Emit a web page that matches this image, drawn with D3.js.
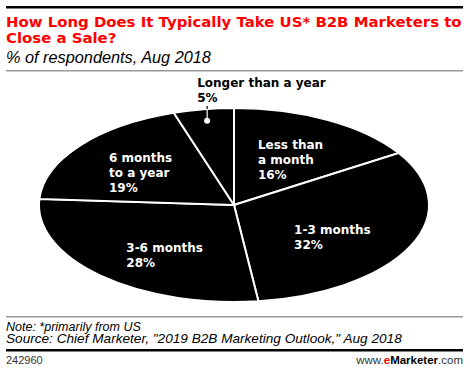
<!DOCTYPE html>
<html>
<head>
<meta charset="utf-8">
<title>Close a Sale</title>
<style>
  body { margin: 0; background: #fff; }
  svg { display: block; }
</style>
</head>
<body>
<script src="https://cdn.jsdelivr.net/npm/d3@7/dist/d3.min.js"></script>
<script>
  // data
  var categories = ['Less than a month', '1-3 months', '3-6 months', '6 months to a year', 'Longer than a year'];
  var values = [16, 32, 28, 19, 5];
  var labelLines = [['Less than', 'a month'], ['1-3 months'], ['3-6 months'], ['6 months', 'to a year'], ['Longer than a year']];

  var W = 470, H = 372;
  var svg = d3.select('body').append('svg').attr('width', W).attr('height', H);
  var font = 'DejaVu Sans, Verdana, sans-serif';
  var plain = 'Liberation Sans, Arial, sans-serif';

  // shrink/grow a text's font size so it spans a given width
  function fit(sel, width) {
    var fs = +sel.attr('font-size');
    var len = sel.node().getComputedTextLength();
    sel.attr('font-size', fs * width / len);
    return sel;
  }

  // top rule + title
  svg.append('rect').attr('x', 6).attr('y', 6).attr('width', 457).attr('height', 2.5).attr('fill', '#000');
  var t1 = svg.append('text').attr('x', 6).attr('y', 27).attr('font-family', font).attr('font-weight', 'bold')
    .attr('font-size', 16).attr('fill', '#ff0000').text('How Long Does It Typically Take US* B2B Marketers to');
  fit(t1, 456);
  svg.append('text').attr('x', 6).attr('y', 43).attr('font-family', font).attr('font-weight', 'bold')
    .attr('font-size', t1.attr('font-size')).attr('fill', '#ff0000').text('Close a Sale?');
  var sub = svg.append('text').attr('x', 6).attr('y', 63).attr('font-family', plain).attr('font-style', 'italic')
    .attr('font-size', 15).attr('fill', '#000').text('% of respondents, Aug 2018');
  fit(sub, 205);
  svg.append('rect').attr('x', 6).attr('y', 70).attr('width', 457).attr('height', 1.5).attr('fill', '#999');

  // pie, squashed into an ellipse
  var cx = 234, cy = 205, rx = 195, ry = 97;
  var pie = d3.pie().sort(null).value(function(d) { return d; });
  var arcs = pie(values);
  var arc = d3.arc().innerRadius(0).outerRadius(rx);
  var labelArc = d3.arc().innerRadius(rx * 0.58).outerRadius(rx * 0.58);

  var g = svg.append('g').attr('transform', 'translate(' + cx + ',' + cy + ')');
  g.append('g').attr('transform', 'scale(1,' + (ry / rx) + ')')
    .selectAll('path').data(arcs).enter().append('path')
    .attr('d', arc)
    .attr('fill', '#000')
    .attr('stroke', '#fff')
    .attr('stroke-width', 2)
    .attr('vector-effect', 'non-scaling-stroke');

  // small shifts so the labels sit like the original
  var nudge = [[2, 4], [-4, 9], [8, 9], [-4, 2]];
  arcs.forEach(function(a, i) {
    if (i === 4) return;
    var c = labelArc.centroid(a);
    var px = c[0] + nudge[i][0], py = c[1] * ry / rx + nudge[i][1];
    var t = g.append('text').attr('font-family', font).attr('font-weight', 'bold')
      .attr('font-size', 12).attr('fill', '#fff');
    var lines = labelLines[i].concat([values[i] + '%']);
    lines.forEach(function(s, k) {
      t.append('tspan').attr('x', 0).attr('y', k * 15).text(s);
    });
    var bb = t.node().getBBox();
    t.attr('transform', 'translate(' + (px - bb.x - bb.width / 2) + ',' + (py - bb.y - bb.height / 2) + ')');
  });

  // small slice: outside label with leader and dot
  var small = arcs[4];
  var dotArc = d3.arc().innerRadius(rx * 0.88).outerRadius(rx * 0.88);
  var dc = dotArc.centroid(small);
  var dotX = dc[0], dotY = dc[1] * ry / rx;
  var edgeY = -ry * Math.sqrt(1 - (dotX / rx) * (dotX / rx));
  g.append('line').attr('x1', dotX).attr('x2', dotX).attr('y1', dotY).attr('y2', edgeY)
    .attr('stroke', '#fff').attr('stroke-width', 1.2);
  g.append('line').attr('x1', dotX).attr('x2', dotX).attr('y1', edgeY).attr('y2', -ry - 2)
    .attr('stroke', '#000').attr('stroke-width', 1.2);
  g.append('circle').attr('cx', dotX).attr('cy', dotY).attr('r', 3).attr('fill', '#fff');
  var st = g.append('text').attr('font-family', font).attr('font-weight', 'bold')
    .attr('font-size', 12).attr('fill', '#000');
  st.append('tspan').attr('x', dotX - 10).attr('y', -ry - 21).text(labelLines[4][0]);
  st.append('tspan').attr('x', dotX - 10).attr('y', -ry - 6).text(values[4] + '%');

  // footer
  svg.append('rect').attr('x', 6).attr('y', 316).attr('width', 457).attr('height', 1.5).attr('fill', '#999');
  svg.append('text').attr('x', 6).attr('y', 330.5).attr('font-family', plain).attr('font-style', 'italic')
    .attr('font-size', 12.5).text('Note: *primarily from US');
  var src = svg.append('text').attr('x', 6).attr('y', 342.5).attr('font-family', plain).attr('font-style', 'italic')
    .attr('font-size', 12.5).text('Source: Chief Marketer, "2019 B2B Marketing Outlook," Aug 2018');
  fit(src, 396);
  svg.append('rect').attr('x', 6).attr('y', 349).attr('width', 457).attr('height', 2.5).attr('fill', '#000');
  svg.append('text').attr('x', 6).attr('y', 364).attr('font-family', plain)
    .attr('font-size', 11).attr('fill', '#333').text('242960');
  var brand = svg.append('text').attr('x', 463).attr('y', 364).attr('text-anchor', 'end')
    .attr('font-family', plain).attr('font-size', 11.5).attr('fill', '#333');
  brand.append('tspan').text('www.');
  brand.append('tspan').attr('fill', '#e00').attr('font-weight', 'bold').text('e');
  brand.append('tspan').attr('font-weight', 'bold').attr('fill', '#000').text('Marketer');
  brand.append('tspan').text('.com');
</script>
</body>
</html>
